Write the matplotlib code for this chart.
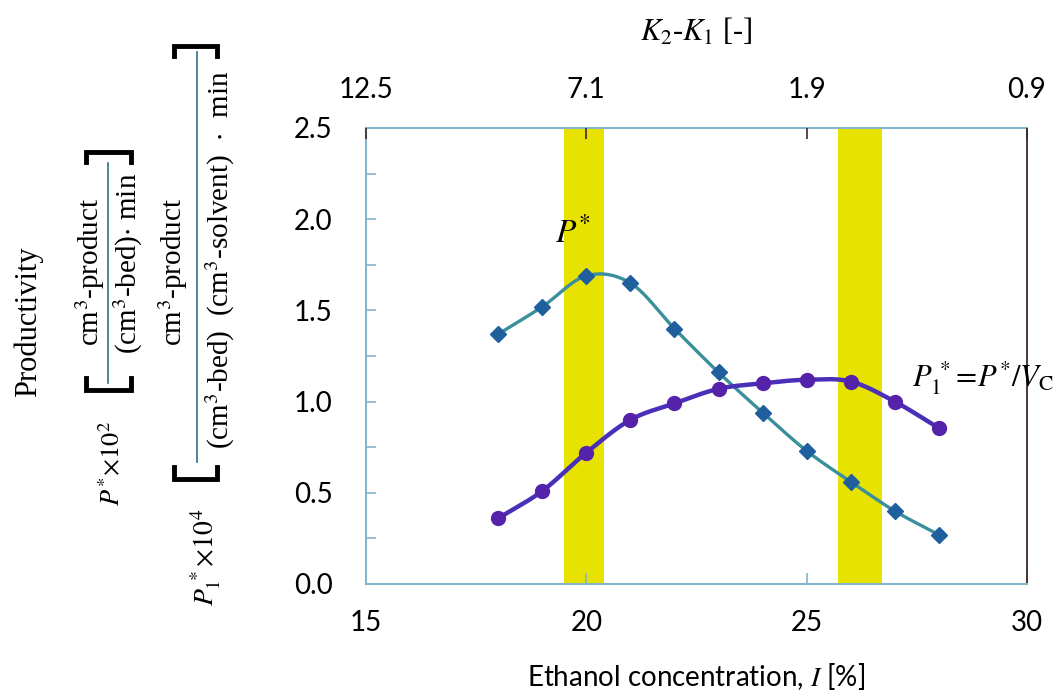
import numpy as np
import matplotlib
matplotlib.use("Agg")
import matplotlib.pyplot as plt
from matplotlib.lines import Line2D

plt.rcParams['mathtext.fontset'] = 'stix'
plt.rcParams['font.family'] = ['Lato', 'DejaVu Sans']

# data
ethanol = [18, 19, 20, 21, 22, 23, 24, 25, 26, 27, 28]
p_star = [1.37, 1.52, 1.69, 1.65, 1.40, 1.16, 0.94, 0.73, 0.56, 0.40, 0.27]
p1_star = [0.36, 0.51, 0.72, 0.90, 0.99, 1.07, 1.10, 1.12, 1.11, 1.00, 0.855]
bands = [(19.5, 20.4), (25.7, 26.7)]
x_ticks = [15, 20, 25, 30]
top_labels = ['12.5', '7.1', '1.9', '0.9']
y_ticks = [0.0, 0.5, 1.0, 1.5, 2.0, 2.5]

W, H = 1064, 697


def fx(px):
    return px / W


def fy(py):
    return 1 - py / H


def smooth(x, y, n=24):
    # catmull-rom through the points, like excel's smoothed line
    p = np.column_stack([x, y]).astype(float)
    p = np.vstack([2 * p[0] - p[1], p, 2 * p[-1] - p[-2]])
    t = np.linspace(0, 1, n)[:, None]
    out = []
    for i in range(1, len(p) - 2):
        p0, p1, p2, p3 = p[i - 1], p[i], p[i + 1], p[i + 2]
        seg = 0.5 * ((2 * p1) + (-p0 + p2) * t + (2 * p0 - 5 * p1 + 4 * p2 - p3) * t ** 2
                     + (-p0 + 3 * p1 - 3 * p2 + p3) * t ** 3)
        out.append(seg if i == 1 else seg[1:])
    out = np.vstack(out)
    return out[:, 0], out[:, 1]


fig = plt.figure(figsize=(W / 100, H / 100), dpi=100)
ax = fig.add_axes([fx(366), fy(584), fx(1027) - fx(366), fy(128) - fy(584)])

frame = '#86b4cc'
for b0, b1 in bands:
    ax.axvspan(b0, b1, color='#e8e200', lw=0, zorder=1)

sx, sy = smooth(ethanol, p_star)
ax.plot(sx, sy, color='#3a8f9c', lw=2.4, zorder=3)
ax.plot(ethanol, p_star, ls='none', marker='D', ms=8, color='#1f5f9e', zorder=4)

sx, sy = smooth(ethanol, p1_star)
ax.plot(sx, sy, color='#4a30b8', lw=3.2, zorder=3)
ax.plot(ethanol, p1_star, ls='none', marker='o', ms=10, color='#5522aa', zorder=4)

ax.set_xlim(15, 30)
ax.set_ylim(0, 2.5)
ax.set_xticks(x_ticks)
ax.set_yticks(y_ticks)
ax.set_yticks(np.arange(0, 2.51, 0.25), minor=True)
ax.set_yticklabels(['%.1f' % v for v in y_ticks])
ax.tick_params(axis='both', which='both', direction='in', color=frame, labelsize=20)
ax.tick_params(axis='y', which='both', length=7, width=1.2, pad=24)
ax.tick_params(axis='x', length=8, width=1.2, pad=19)
for side in ['left', 'bottom', 'top']:
    ax.spines[side].set_color(frame)
    ax.spines[side].set_linewidth(1.5)
ax.spines['right'].set_color('#3a2a2a')
ax.spines['right'].set_linewidth(1.3)
ax.set_xlabel('Ethanol concentration, $\\mathit{I}$ [%]', fontsize=20, labelpad=18)

ax2 = ax.twiny()
ax2.set_xlim(15, 30)
ax2.set_xticks(x_ticks)
ax2.set_xticklabels(top_labels)
ax2.tick_params(axis='x', direction='in', length=8, width=1.2, color='#3a2a2a', labelsize=20, pad=18)
for s in ax2.spines.values():
    s.set_visible(False)
ax2.set_xlabel('$K_2$-$K_1$ [-]', fontsize=22, labelpad=26, family=['Liberation Serif', 'DejaVu Sans'])

# curve annotations
ax.text(19.3, 1.93, '$P^{*}$', fontsize=24, ha='left', va='center')
ax.text(27.4, 1.13, '$P_1^{\\,*}\\!=\\!P^{*}/V_{\\mathrm{C}}$', fontsize=22, ha='left', va='center')

# left-hand productivity label
serif = ['Liberation Serif', 'DejaVu Sans']
fig.text(fx(28), fy(322), 'Productivity', rotation=90, fontsize=22, ha='center', va='center', family=serif)
fig.text(fx(112), fy(463), '$P^{*}\\!\\times\\!10^{2}$', rotation=90, fontsize=19, ha='center', va='center')
fig.text(fx(206), fy(557), '$P_1^{\\,*}\\!\\times\\!10^{4}$', rotation=90, fontsize=20, ha='center', va='center')

fig.text(fx(90), fy(272), 'cm$^{3}$-product', rotation=90, fontsize=21, ha='center', va='center', family=serif)
fig.text(fx(128), fy(263), '(cm$^{3}$-bed)$\\cdot$ min', rotation=90, fontsize=21, ha='center', va='center', family=serif)
fig.text(fx(173), fy(272), 'cm$^{3}$-product', rotation=90, fontsize=21, ha='center', va='center', family=serif)
fig.text(fx(220), fy(260), '(cm$^{3}$-bed)  (cm$^{3}$-solvent)  $\\cdot$  min', rotation=90, fontsize=21,
         ha='center', va='center', family=serif)


def frac_bracket(x0, x1, xl, ytop, ybot, lt, lb):
    # fraction bar
    fig.add_artist(Line2D([fx(xl), fx(xl)], [fy(lt), fy(lb)], color='#2f6f8a', lw=1.2))
    # closing bracket on top, opening bracket at bottom
    fig.add_artist(Line2D([fx(x0), fx(x0), fx(x1), fx(x1)], [fy(ytop + 10), fy(ytop), fy(ytop), fy(ytop + 10)],
                          color='black', lw=3.5, solid_joinstyle='miter'))
    fig.add_artist(Line2D([fx(x0), fx(x0), fx(x1), fx(x1)], [fy(ybot - 12), fy(ybot), fy(ybot), fy(ybot - 12)],
                          color='black', lw=3.5, solid_joinstyle='miter'))


frac_bracket(86, 131, 108, 152, 390, 163, 383)
frac_bracket(174, 217, 197, 46, 479, 52, 462)

fig.savefig('out.png', dpi=100)
